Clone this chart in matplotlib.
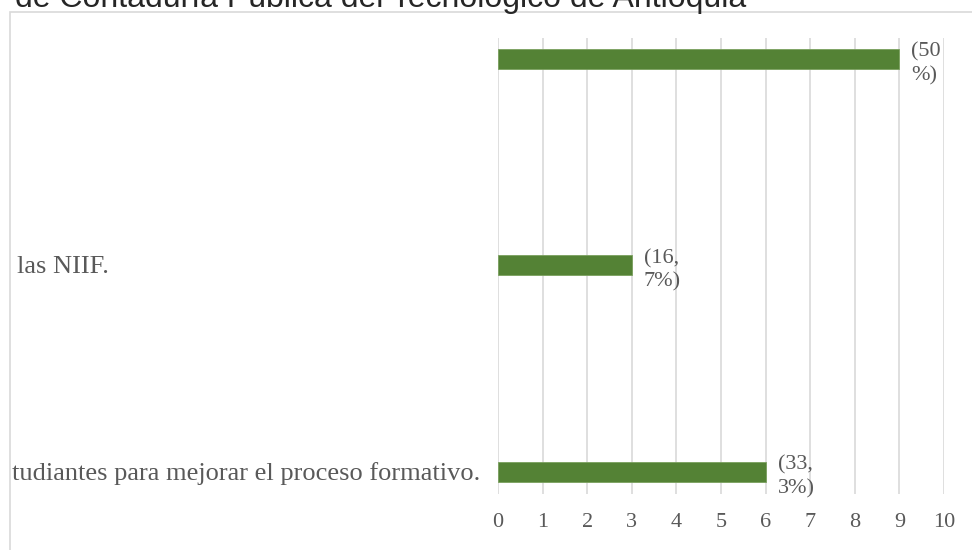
import numpy as np
import matplotlib.pyplot as plt
from matplotlib.patches import Rectangle
import matplotlib.transforms as mtransforms

# data (bottom to top, as drawn)
categories = ['tudiantes para mejorar el proceso formativo.', 'las NIIF.', '']
values = [6, 3, 9]
bar_labels = ['(33,\n3%)', '(16,\n7%)', '(50\n%)']
xticks = np.arange(0, 11, 1)

title = 'de Contaduría Pública del Tecnológico de Antioquia'

green = '#548235'
gray = '#595959'
grid = '#d9d9d9'

fig = plt.figure(figsize=(9.72, 5.5), dpi=100)

# chart area border (cut off on right and bottom)
fig.patches.append(Rectangle((10 / 972, -0.1), 1.2, 1.1 - 12 / 550,
                             transform=fig.transFigure, fill=False,
                             edgecolor='#d9d9d9', linewidth=1.2))

# cropped title at top (only the lower part shows, like the screenshot)
fig.text(15 / 972, 1 - 7 / 550, title, fontsize=23, color='#262626',
         family='Liberation Sans', ha='left', va='baseline')

ax = fig.add_axes([498 / 972, 1 - 494 / 550, 446 / 972, 456 / 550])
y = np.arange(len(categories))
ax.barh(y, values, height=0.097, color=green, edgecolor='#7aa05e', linewidth=0.6, zorder=3)

ax.set_xlim(0, 10)
ax.set_ylim(-0.107, 2.10)
ax.set_xticks(xticks)
ax.set_xticklabels([str(t) for t in xticks], family='Liberation Serif', fontsize=16, color=gray)
ax.tick_params(axis='x', length=0, pad=14)
ax.set_yticks([])
ax.grid(axis='x', color=grid, linewidth=1.2, zorder=0)
for s in ax.spines.values():
    s.set_visible(False)

# data labels
for yi, v, lab in zip(y, values, bar_labels):
    ax.text(v + 0.27, yi - 0.025, lab, family='Liberation Serif', fontsize=16, color=gray,
            ha='left', va='center', linespacing=1.3)

# category labels (left aligned, cut by the chart border)
trans = mtransforms.blended_transform_factory(fig.transFigure, ax.transData)
label_x = [12 / 972, 17 / 972, 17 / 972]
for yi, c, lx in zip(y, categories, label_x):
    ax.text(lx, yi - 0.01, c, transform=trans, family='Liberation Serif', fontsize=19,
            color=gray, ha='left', va='center', clip_on=False)

plt.savefig('out.png', dpi=100)
